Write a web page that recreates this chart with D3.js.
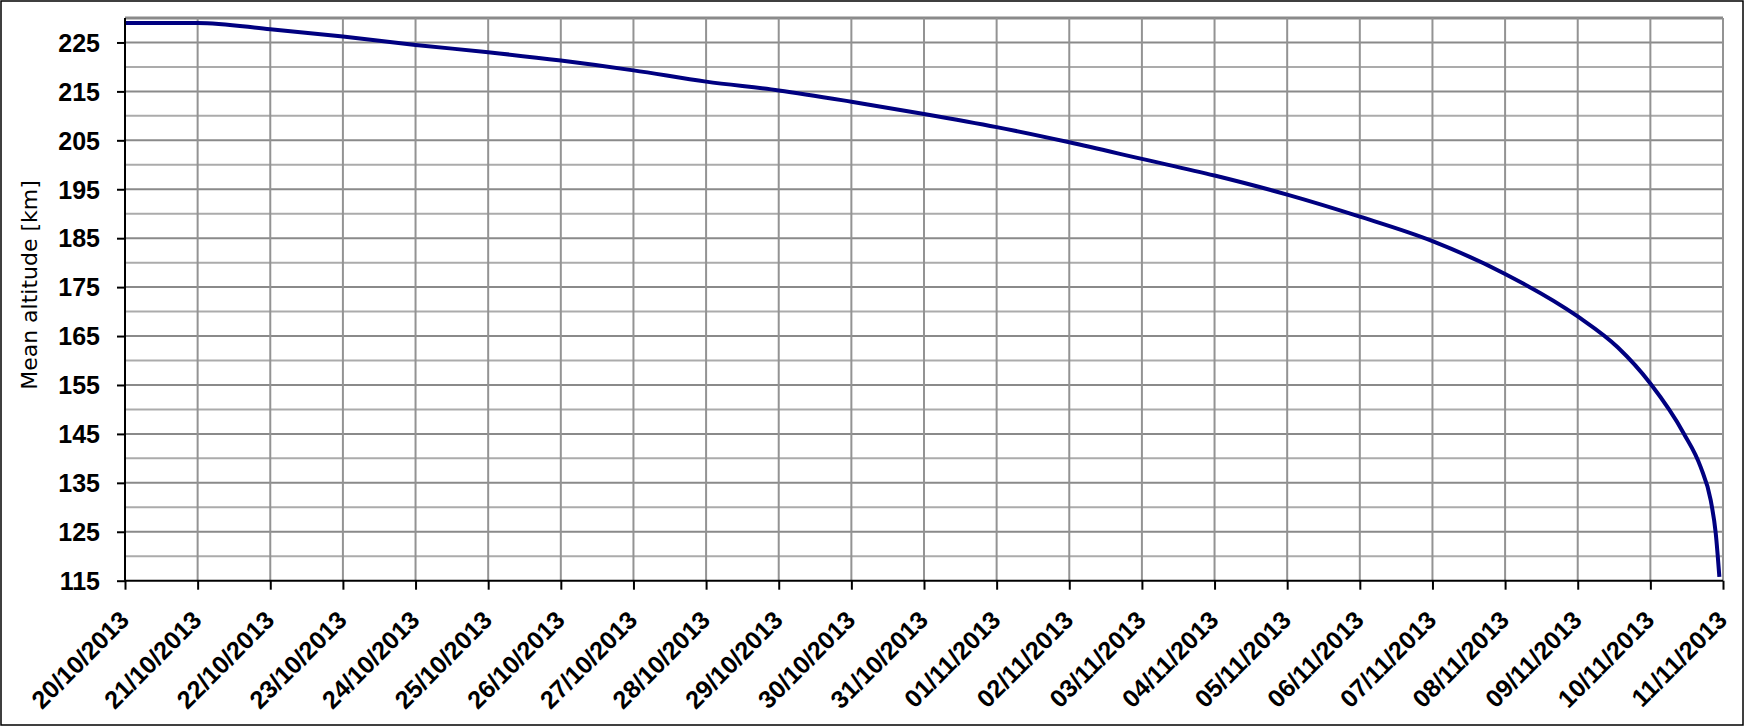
<!DOCTYPE html>
<html>
<head>
<meta charset="utf-8">
<script src="https://cdn.jsdelivr.net/npm/d3@7"></script>
<style>
  html, body { margin: 0; padding: 0; background: #fff; }
  svg { display: block; }
</style>
</head>
<body>
<svg id="chart" width="1747" height="727"></svg>
<script>
// ---- data ----
const timestamps = [
  "2013-10-20 00:00", "2013-10-21 00:00", "2013-10-22 00:00", "2013-10-23 00:00",
  "2013-10-24 00:00", "2013-10-25 00:00", "2013-10-26 00:00", "2013-10-27 00:00",
  "2013-10-28 00:00", "2013-10-29 00:00", "2013-10-30 00:00", "2013-10-31 00:00",
  "2013-11-01 00:00", "2013-11-02 00:00", "2013-11-03 00:00", "2013-11-04 00:00",
  "2013-11-05 00:00", "2013-11-06 00:00", "2013-11-07 00:00", "2013-11-08 00:00",
  "2013-11-09 00:00", "2013-11-09 13:12", "2013-11-10 00:00", "2013-11-10 11:02",
  "2013-11-10 16:34", "2013-11-10 19:55", "2013-11-10 21:36", "2013-11-10 22:48"
];
const meanAltitudeKm = [
  229.0, 229.0, 227.7, 226.2,
  224.5, 223.0, 221.3, 219.3,
  217.0, 215.2, 212.9, 210.4,
  207.7, 204.6, 201.2, 197.8,
  193.9, 189.4, 184.4, 177.7,
  169.0, 162.7, 155.3, 145.1,
  138.3, 131.5, 124.7, 115.8
];
const yTickLabels = [115, 125, 135, 145, 155, 165, 175, 185, 195, 205, 215, 225];
const yMinorGrid = [120, 130, 140, 150, 160, 170, 180, 190, 200, 210, 220];
const xTickLabels = [
  "20/10/2013", "21/10/2013", "22/10/2013", "23/10/2013", "24/10/2013", "25/10/2013",
  "26/10/2013", "27/10/2013", "28/10/2013", "29/10/2013", "30/10/2013", "31/10/2013",
  "01/11/2013", "02/11/2013", "03/11/2013", "04/11/2013", "05/11/2013", "06/11/2013",
  "07/11/2013", "08/11/2013", "09/11/2013", "10/11/2013", "11/11/2013"
];
const yAxisTitle = "Mean altitude [km]";
const yDomain = [115, 230];

// ---- layout ----
const W = 1747, H = 727;
const plot = { left: 125, right: 1723, top: 18, bottom: 580.7 };

const parseTs = d3.timeParse("%Y-%m-%d %H:%M");
const parseTick = d3.timeParse("%d/%m/%Y");
const fmtTick = d3.timeFormat("%d/%m/%Y");

const series = timestamps.map((t, i) => ({ t: parseTs(t), v: meanAltitudeKm[i] }));
const xTicks = xTickLabels.map(parseTick);

const x = d3.scaleTime()
  .domain([xTicks[0], xTicks[xTicks.length - 1]])
  .range([plot.left, plot.right]);
const y = d3.scaleLinear().domain(yDomain).range([plot.bottom, plot.top]);

const svg = d3.select("#chart");

svg.append("rect").attr("x", 0).attr("y", 0).attr("width", W).attr("height", H).attr("fill", "#fff");
// outer frame
svg.append("rect").attr("x", 1).attr("y", 1).attr("width", 1742).attr("height", 724)
  .attr("fill", "none").attr("stroke", "#000").attr("stroke-width", 1.5);

const grid = svg.append("g");
// minor horizontal grid
grid.selectAll("line.hmin").data(yMinorGrid).enter().append("line")
  .attr("x1", plot.left).attr("x2", plot.right)
  .attr("y1", d => y(d)).attr("y2", d => y(d))
  .attr("stroke", "#ababab").attr("stroke-width", 2);
// major horizontal grid
grid.selectAll("line.hmaj").data(yTickLabels.filter(d => d > yDomain[0])).enter().append("line")
  .attr("x1", plot.left).attr("x2", plot.right)
  .attr("y1", d => y(d)).attr("y2", d => y(d))
  .attr("stroke", "#8a8a8a").attr("stroke-width", 2);
// top boundary (230)
grid.append("line")
  .attr("x1", plot.left).attr("x2", plot.right)
  .attr("y1", y(yDomain[1])).attr("y2", y(yDomain[1]))
  .attr("stroke", "#8a8a8a").attr("stroke-width", 3);
// vertical grid
grid.selectAll("line.v").data(xTicks.slice(1)).enter().append("line")
  .attr("x1", d => x(d)).attr("x2", d => x(d))
  .attr("y1", plot.top).attr("y2", plot.bottom)
  .attr("stroke", "#939393").attr("stroke-width", 2);

// line
const line = d3.line().x(d => x(d.t)).y(d => y(d.v)).curve(d3.curveMonotoneX);
svg.append("path").datum(series)
  .attr("d", line)
  .attr("fill", "none")
  .attr("stroke", "#000080")
  .attr("stroke-width", 4)
  .attr("stroke-linejoin", "round");

// y axis
const yAxis = svg.append("g")
  .attr("transform", `translate(${plot.left},0)`)
  .call(d3.axisLeft(y).tickValues(yTickLabels).tickSize(8).tickPadding(17).tickFormat(d3.format("d")));
yAxis.select(".domain").attr("stroke", "#000").attr("stroke-width", 2)
  .attr("d", `M0,${plot.top}V${plot.bottom}`);
yAxis.selectAll(".tick line").attr("stroke", "#000").attr("stroke-width", 2);
yAxis.selectAll(".tick text")
  .attr("font-family", "'Liberation Sans', Arial, sans-serif")
  .attr("font-weight", "bold").attr("font-size", 25).attr("fill", "#000")
  .attr("dy", "0.35em");

// x axis
const xAxis = svg.append("g")
  .attr("transform", `translate(0,${plot.bottom})`)
  .call(d3.axisBottom(x).tickValues(xTicks).tickSize(9).tickFormat(fmtTick));
xAxis.select(".domain").attr("stroke", "#000").attr("stroke-width", 2)
  .attr("d", `M${plot.left},0H${plot.right}`);
xAxis.selectAll(".tick line").attr("stroke", "#000").attr("stroke-width", 2);
xAxis.selectAll(".tick text")
  .attr("font-family", "'Liberation Sans', Arial, sans-serif")
  .attr("font-weight", "bold").attr("font-size", 25).attr("fill", "#000")
  .attr("text-anchor", "end")
  .attr("y", 0).attr("dy", 0)
  .attr("transform", "translate(5,41) rotate(-45)");

// y axis title
svg.append("text")
  .attr("transform", `translate(37,${(175 + 395) / 2}) rotate(-90)`)
  .attr("text-anchor", "middle")
  .attr("font-family", "'DejaVu Sans', sans-serif")
  .attr("font-size", 22).attr("fill", "#000")
  .text(yAxisTitle);
</script>
</body>
</html>
